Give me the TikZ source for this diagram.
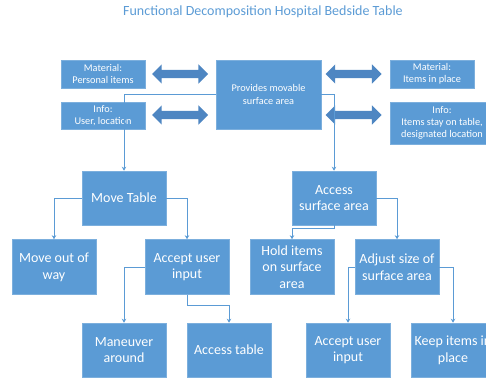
\documentclass[tikz,border=0pt]{standalone}
\usepackage{fontspec}
\setmainfont{Carlito}
\usetikzlibrary{arrows.meta,shapes.arrows}
\definecolor{boxblue}{HTML}{5B9BD5}
\definecolor{arrowblue}{HTML}{4E86C2}
\definecolor{lineblue}{HTML}{5B9BD5}
\tikzset{
  fbox/.style={fill=boxblue,draw=boxblue!80!white,line width=0.6pt,text=white,
    align=center,inner sep=2pt,minimum width=84pt,minimum height=55pt,
    font=\fontsize{14}{16.7}\selectfont},
  topbox/.style={fbox,minimum height=28pt,font=\fontsize{10.3}{12.3}\selectfont},
  dblarrow/.style={double arrow,fill=arrowblue,draw=none,inner xsep=0pt,inner ysep=4pt,
    minimum height=56pt,double arrow head extend=5.5pt},
  link/.style={draw=lineblue,line width=0.8pt,-{Stealth[length=4pt,width=4.5pt]}},
}
\begin{document}
\begin{tikzpicture}[x=1pt,y=-1pt]
\useasboundingbox (0,0) rectangle (486,379);
\node[text=boxblue,font=\fontsize{14}{16}\selectfont] (title) at (263,12)
  {Functional Decomposition Hospital Bedside Table};
% top row
\path
(268.5,94.5) node[topbox,minimum width=105pt,minimum height=69pt] (prov) {Provides movable\\surface area}
(103,74)     node[topbox] (matL) {Material:\\Personal items}
(103,115.5)  node[topbox,minimum height=27pt] (infoL) {Info:\\User, location}
(432,74)     node[topbox] (matR) {Material:\\Items in place}
(442,123)    node[topbox,minimum width=104pt,minimum height=42pt] (infoR) {Info:\\Items stay on table,\\designated location}
(180,74)     node[dblarrow] (arrLT) {}
(180,115)    node[dblarrow] (arrLB) {}
(353.5,74)   node[dblarrow] (arrRT) {}
(353.5,115)  node[dblarrow] (arrRB) {}
;
% tree
\path
(124,198) node[fbox,minimum height=54pt] (move) {Move Table}
(334,198) node[fbox,minimum height=54pt] (access) {Access\\surface area}
(54,267)  node[fbox] (outway) {Move out of\\way}
(187,267) node[fbox] (acceptL) {Accept user\\input}
(292,267) node[fbox] (hold) {Hold items\\on surface\\area}
(397,267) node[fbox] (adjust) {Adjust size of\\surface area}
(124,350) node[fbox,minimum height=54pt] (maneuver) {Maneuver\\around}
(229,350) node[fbox,minimum height=54pt] (acctab) {Access table}
(348,350) node[fbox,minimum height=54pt] (acceptR) {Accept user\\input}
(453,350) node[fbox,minimum height=54pt] (keep) {Keep items in\\place}
;
\draw[link] (prov.west) -| (move.north);
\draw[link] (prov.east) -| (access.north);
\draw[link] (move.west) -| (outway.north);
\draw[link] (move.east) -| (acceptL.north);
\draw[link] (acceptL.west) -| (maneuver.north);
\draw[link] (acceptL.south) -- ++(0,11) -| (acctab.north);
\draw[link] (access.south) -- ++(0,3) -| (hold.north);
\draw[link] (access.east) -| (adjust.north);
\draw[link] (adjust.west) -| (acceptR.north);
\draw[link] (adjust.east) -| (keep.north);
\end{tikzpicture}
\end{document}
